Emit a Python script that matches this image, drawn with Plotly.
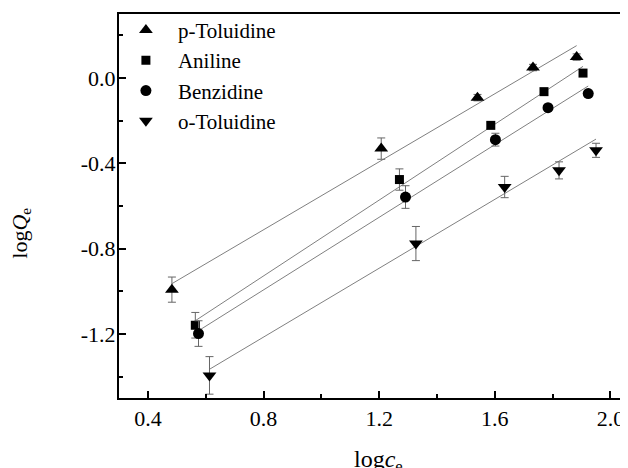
import plotly.graph_objects as go
import numpy as np

series_names = ["p-Toluidine", "Aniline", "Benzidine", "o-Toluidine"]

ptol_x = [0.483, 1.207, 1.540, 1.732, 1.883]
ptol_y = [-0.992, -0.331, -0.092, 0.049, 0.098]
ptol_err = [0.059, 0.050, 0.015, 0.015, 0.015]

anil_x = [0.564, 1.270, 1.586, 1.770, 1.905]
anil_y = [-1.159, -0.476, -0.222, -0.064, 0.023]
anil_err = [0.060, 0.050, 0.015, 0.015, 0.015]

benz_x = [0.575, 1.291, 1.602, 1.784, 1.923]
benz_y = [-1.198, -0.558, -0.289, -0.139, -0.073]
benz_err = [0.060, 0.053, 0.030, 0.015, 0.015]

otol_x = [0.613, 1.327, 1.634, 1.822, 1.950]
otol_y = [-1.394, -0.776, -0.511, -0.433, -0.339]
otol_err = [0.088, 0.080, 0.050, 0.040, 0.033]

# linear fit parameters (slope, intercept)
fit_slope = [0.797, 0.889, 0.851, 0.807]
fit_intercept = [-1.349, -1.639, -1.674, -1.860]

x_tickvals = [0.4, 0.8, 1.2, 1.6, 2.0]
x_ticktext = ["0.4", "0.8", "1.2", "1.6", "2.0"]
y_tickvals = [0.0, -0.4, -0.8, -1.2]
y_ticktext = ["0.0", "-0.4", "-0.8", "-1.2"]

xs = [ptol_x, anil_x, benz_x, otol_x]
ys = [ptol_y, anil_y, benz_y, otol_y]
errs = [ptol_err, anil_err, benz_err, otol_err]
symbols = ["triangle-up", "square", "circle", "triangle-down"]
sizes = [12, 9, 11, 12]

FONT = "Liberation Serif, Times New Roman, serif"

fig = go.Figure()

for i in range(4):
    x0, x1 = min(xs[i]), max(xs[i])
    lx = [x0, x1]
    ly = [fit_slope[i] * v + fit_intercept[i] for v in lx]
    fig.add_trace(go.Scatter(x=lx, y=ly, mode="lines",
                             line=dict(color="#808080", width=1),
                             showlegend=False, hoverinfo="skip"))

for i in range(4):
    fig.add_trace(go.Scatter(
        x=xs[i], y=ys[i], mode="markers", name=series_names[i],
        marker=dict(symbol=symbols[i], size=sizes[i], color="black"),
        error_y=dict(type="data", array=errs[i], color="#666666",
                     thickness=1, width=4),
    ))

fig.update_layout(
    width=620, height=460,
    margin=dict(l=111, r=0, t=6, b=70, autoexpand=False),
    paper_bgcolor="white", plot_bgcolor="white",
    font=dict(family=FONT, size=21, color="black"),
    showlegend=True,
    legend=dict(x=-0.01, y=1.011, xanchor="left", yanchor="top",
                bgcolor="rgba(0,0,0,0)", font=dict(size=21, family=FONT),
                itemwidth=54, tracegroupgap=0),
    xaxis=dict(range=[0.3, 2.0606], showgrid=False, zeroline=False,
               automargin=False,
               showline=True, linecolor="black", linewidth=2, mirror=True,
               ticks="inside", ticklen=7, tickwidth=1.5, tickcolor="black",
               tickvals=x_tickvals, ticktext=x_ticktext,
               minor=dict(ticks="inside", ticklen=4, dtick=0.2, tick0=0,
                          tickcolor="black", tickwidth=1.5),
               tickfont=dict(size=22, family=FONT)),
    yaxis=dict(range=[-1.5, 0.3], showgrid=False, zeroline=False,
               automargin=False, ticklabelstandoff=-3,
               showline=True, linecolor="black", linewidth=2, mirror=False,
               ticks="inside", ticklen=7, tickwidth=1.5, tickcolor="black",
               tickvals=y_tickvals, ticktext=y_ticktext,
               minor=dict(ticks="inside", ticklen=4, dtick=0.2, tick0=0,
                          tickcolor="black", tickwidth=1.5),
               tickfont=dict(size=22, family=FONT)),
    annotations=[
        dict(text="log<i>Q</i><sub>e</sub>", xref="paper", yref="paper",
             x=-0.193, y=0.43, textangle=-90, showarrow=False,
             xanchor="center", yanchor="middle",
             font=dict(size=22, family=FONT)),
        dict(text="log<i>c</i><sub>e</sub>", xref="paper", yref="paper",
             x=0.509, y=-0.12, showarrow=False,
             xanchor="center", yanchor="top",
             font=dict(size=24, family=FONT)),
    ],
)

fig.write_html("out.html")
